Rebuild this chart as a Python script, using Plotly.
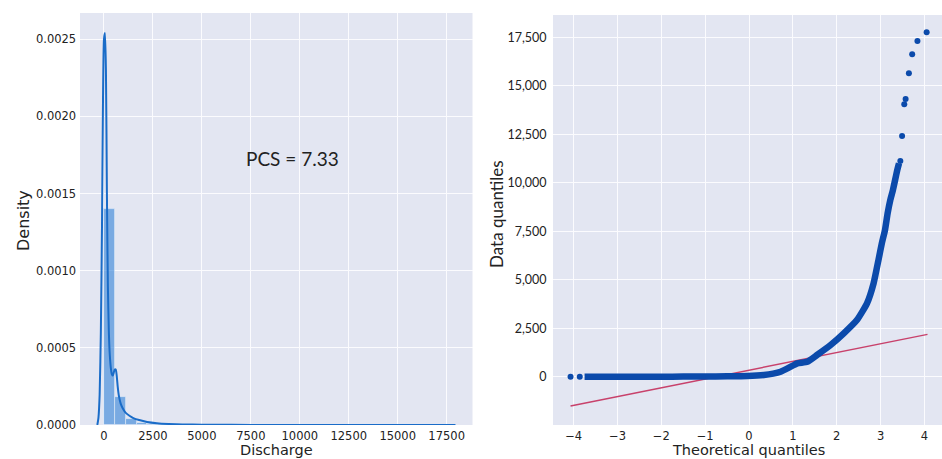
import plotly.graph_objects as go

# ---- Left panel: histogram of discharge with density curve ----
bin_width = 17750 / 32
hist_density = [0.0014, 0.00018, 0.00004, 0.000015, 0.000008, 0.000005, 0.000004, 0.000003,
                0.0000025, 0.000002, 0.000002, 0.0000015, 0.0000012, 0.000001, 0.000001, 0.0000008,
                0.0000006, 0.0000005, 0.0000005, 0.0000004, 0.0000004, 0.0000003, 0.0000003, 0.0000003,
                0.0000002, 0.0000002, 0.0000002, 0.0000002, 0.0000002, 0.0000002, 0.0000002, 0.0000002]
bin_centers = [bin_width * (i + 0.5) for i in range(len(hist_density))]

kde_x = [-340, -280, -220, -160, -100, -50, 0, 50, 100, 150, 200, 250, 300, 350, 400, 450,
         500, 550, 600, 650, 700, 760, 850, 950, 1100, 1300, 1500, 1800, 2200, 2700, 3300,
         4000, 5000, 6500, 8500, 11000, 14000, 17950]
kde_y = [0, 0.00005, 0.0002, 0.0006, 0.0013, 0.0021, 0.0025, 0.00254, 0.0023, 0.0015, 0.0009,
         0.0006, 0.00045, 0.00037, 0.00033, 0.00032, 0.00034, 0.00036, 0.00036, 0.00032, 0.00025,
         0.00019, 0.00014, 0.00011, 0.00008, 0.00006, 0.000045, 0.000032, 0.00002, 0.000012,
         0.000007, 0.000004, 0.000002, 0.000001, 0.0000006, 0.0000004, 0.0000002, 0.0000001]

left_xticks = [0, 2500, 5000, 7500, 10000, 12500, 15000, 17500]
left_yticks = [0.0, 0.0005, 0.0010, 0.0015, 0.0020, 0.0025]
pcs_label = "PCS = 7.33"

# ---- Right panel: normal Q-Q plot ----
qq_isolated_theo = [-4.07, -3.86, 3.45, 3.49, 3.54, 3.57, 3.645, 3.72, 3.84, 4.05]
qq_isolated_data = [0, 0, 11122, 12411, 14045, 14318, 15643, 16623, 17309, 17757]

qq_band_theo = [-3.75, -3.0, -2.54, -2.0, -1.5, -1.02, -0.5, -0.04, 0.34, 0.55, 0.72, 0.95,
                1.10, 1.33, 1.55, 1.86, 2.16, 2.46, 2.69, 2.84, 2.95, 3.03, 3.10, 3.16, 3.22,
                3.28, 3.33, 3.38, 3.42]
qq_band_data = [0, 0, 0, 2, 5, 10, 20, 36, 88, 160, 258, 516, 690, 774, 1118, 1634, 2237,
                2923, 3784, 4815, 6000, 6900, 7564, 8423, 9100, 9616, 10131, 10657, 11000]

fit_theo = [-4.07, 4.07]
fit_intercept = 337
fit_slope = 454
fit_data = [fit_intercept + fit_slope * t for t in fit_theo]

right_xticks = [-4, -3, -2, -1, 0, 1, 2, 3, 4]
right_xticklabels = ["\u22124", "\u22123", "\u22122", "\u22121", "0", "1", "2", "3", "4"]
right_yticks = [0, 2500, 5000, 7500, 10000, 12500, 15000, 17500]
right_yticklabels = ["0", "2,500", "5,000", "7,500", "10,000", "12,500", "15,000", "17,500"]

BG = "#e3e6f2"
GRID = "#fbfbfe"
TXT = "#222222"
W, H = 942, 459

fig = go.Figure()

fig.add_trace(go.Bar(
    x=bin_centers, y=hist_density, width=bin_width,
    marker=dict(color="rgba(50,130,215,0.60)", line=dict(color="rgba(235,240,250,0.7)", width=0.8)),
    xaxis="x", yaxis="y", showlegend=False,
))
fig.add_trace(go.Scatter(
    x=kde_x, y=kde_y, mode="lines", line=dict(color="#1a6cc8", width=2, shape="spline", smoothing=0.6),
    xaxis="x", yaxis="y", showlegend=False,
))

fig.add_trace(go.Scatter(
    x=fit_theo, y=fit_data, mode="lines", line=dict(color="#c8416b", width=1.4),
    xaxis="x2", yaxis="y2", showlegend=False,
))
fig.add_trace(go.Scatter(
    x=qq_band_theo, y=qq_band_data, mode="lines",
    line=dict(color="#0b4aab", width=6.5, shape="spline", smoothing=0.5),
    xaxis="x2", yaxis="y2", showlegend=False,
))
fig.add_trace(go.Scatter(
    x=qq_isolated_theo, y=qq_isolated_data, mode="markers",
    marker=dict(color="#0b4aab", size=6),
    xaxis="x2", yaxis="y2", showlegend=False,
))

fig.add_annotation(
    x=9640, y=0.00173, xref="x", yref="y", text=pcs_label, showarrow=False,
    font=dict(family="Lato", size=19, color=TXT),
)

# axis titles, placed in paper space
title_font_dv = dict(family="DejaVu Sans", size=14.5, color=TXT)
title_font_lato = dict(family="Lato", size=17, color=TXT)
for text, xpx in [("Discharge", 276), ("Theoretical quantiles", 748)]:
    fig.add_annotation(x=xpx / W, y=0, xref="paper", yref="paper", text=text,
                       showarrow=False, xanchor="center", yanchor="bottom",
                       font=title_font_dv, borderpad=0)
fig.add_annotation(x=23 / W, y=(H - 221) / H, xref="paper", yref="paper", text="Density",
                   textangle=-90, showarrow=False, xanchor="center", yanchor="middle",
                   font=dict(family="DejaVu Sans", size=16, color=TXT))
fig.add_annotation(x=496 / W, y=(H - 214) / H, xref="paper", yref="paper", text="Data quantiles",
                   textangle=-90, showarrow=False, xanchor="center", yanchor="middle", font=title_font_lato)

common_axis = dict(showgrid=True, gridcolor=GRID, gridwidth=1, zeroline=False, showline=False,
                   ticks="outside", tickcolor="rgba(0,0,0,0)", automargin=False)

fig.update_layout(
    width=W, height=H, margin=dict(l=0, r=0, t=0, b=0),
    paper_bgcolor="white", plot_bgcolor=BG, bargap=0,
    xaxis=dict(domain=[80 / W, 472.5 / W], range=[-1224, 18819], anchor="y",
               tickvals=left_xticks, ticktext=[str(v) for v in left_xticks], ticklen=0,
               tickfont=dict(family="DejaVu Sans", size=11.5, color=TXT), **common_axis),
    yaxis=dict(domain=[(H - 425) / H, (H - 13) / H], range=[0, 0.00267], anchor="x",
               tickvals=left_yticks, ticktext=[f"{v:.4f}" for v in left_yticks], ticklen=0.5,
               tickfont=dict(family="DejaVu Sans", size=11.5, color=TXT), **common_axis),
    xaxis2=dict(domain=[553 / W, 1.0], range=[-4.47, 4.40], anchor="y2",
                tickvals=right_xticks, ticktext=right_xticklabels, ticklen=0,
                tickfont=dict(family="DejaVu Sans", size=11.5, color=TXT), **common_axis),
    yaxis2=dict(domain=[(H - 425) / H, (H - 15) / H], range=[-2490, 18650], anchor="x2",
                tickvals=right_yticks, ticktext=right_yticklabels, ticklen=3,
                tickfont=dict(family="Lato", size=12.5, color=TXT), **common_axis),
)

fig.write_html("out.html")
